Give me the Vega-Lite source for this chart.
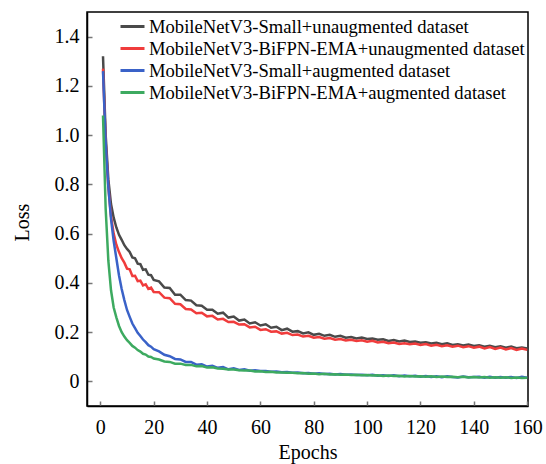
{
  "$schema": "https://vega.github.io/schema/vega-lite/v6.json",
  "width": 441,
  "height": 394,
  "autosize": "none",
  "padding": {"left": 87, "top": 12, "right": 18, "bottom": 58},
  "background": "white",
  "config": {
    "font": "Liberation Serif",
    "view": {"stroke": "black", "strokeWidth": 1.5},
    "axis": {
      "grid": false,
      "domainColor": "black",
      "domainWidth": 1.5,
      "tickColor": "#777777",
      "tickWidth": 1.5,
      "tickSize": -5,
      "labelFontSize": 20,
      "labelColor": "black",
      "labelFont": "Liberation Serif",
      "titleFont": "Liberation Serif",
      "titleFontSize": 20,
      "titleFontWeight": "normal",
      "titleColor": "black"
    }
  },
  "data": {
    "values": [
      {"e": 1, "a": 1.32, "b": 1.27, "c": 1.26, "d": 1.08},
      {"e": 2, "a": 1.0, "b": 0.97, "c": 0.97, "d": 0.7},
      {"e": 3, "a": 0.82, "b": 0.79, "c": 0.79, "d": 0.49},
      {"e": 4, "a": 0.72, "b": 0.67, "c": 0.66, "d": 0.37},
      {"e": 5, "a": 0.665, "b": 0.6, "c": 0.57, "d": 0.3},
      {"e": 6, "a": 0.625, "b": 0.555, "c": 0.5, "d": 0.26},
      {"e": 7, "a": 0.595, "b": 0.525, "c": 0.43, "d": 0.225},
      {"e": 8, "a": 0.575, "b": 0.5, "c": 0.375, "d": 0.2},
      {"e": 9, "a": 0.553, "b": 0.482, "c": 0.33, "d": 0.182},
      {"e": 10, "a": 0.538, "b": 0.458, "c": 0.29, "d": 0.167},
      {"e": 11, "a": 0.526, "b": 0.455, "c": 0.262, "d": 0.156},
      {"e": 12, "a": 0.503, "b": 0.428, "c": 0.235, "d": 0.144},
      {"e": 13, "a": 0.5, "b": 0.429, "c": 0.216, "d": 0.137},
      {"e": 14, "a": 0.478, "b": 0.407, "c": 0.197, "d": 0.127},
      {"e": 15, "a": 0.476, "b": 0.409, "c": 0.184, "d": 0.121},
      {"e": 16, "a": 0.453, "b": 0.39, "c": 0.17, "d": 0.112},
      {"e": 17, "a": 0.455, "b": 0.394, "c": 0.159, "d": 0.109},
      {"e": 18, "a": 0.433, "b": 0.376, "c": 0.147, "d": 0.101},
      {"e": 19, "a": 0.431, "b": 0.381, "c": 0.141, "d": 0.099},
      {"e": 20, "a": 0.412, "b": 0.363, "c": 0.131, "d": 0.093},
      {"e": 22, "a": 0.406, "b": 0.362, "c": 0.122, "d": 0.089},
      {"e": 24, "a": 0.381, "b": 0.34, "c": 0.108, "d": 0.081},
      {"e": 26, "a": 0.379, "b": 0.338, "c": 0.102, "d": 0.079},
      {"e": 28, "a": 0.352, "b": 0.315, "c": 0.091, "d": 0.072},
      {"e": 30, "a": 0.352, "b": 0.313, "c": 0.089, "d": 0.072},
      {"e": 32, "a": 0.33, "b": 0.294, "c": 0.079, "d": 0.067},
      {"e": 34, "a": 0.328, "b": 0.292, "c": 0.079, "d": 0.067},
      {"e": 36, "a": 0.309, "b": 0.277, "c": 0.068, "d": 0.061},
      {"e": 38, "a": 0.307, "b": 0.279, "c": 0.069, "d": 0.062},
      {"e": 40, "a": 0.291, "b": 0.264, "c": 0.06, "d": 0.056},
      {"e": 42, "a": 0.291, "b": 0.266, "c": 0.063, "d": 0.057},
      {"e": 44, "a": 0.275, "b": 0.251, "c": 0.055, "d": 0.052},
      {"e": 46, "a": 0.279, "b": 0.254, "c": 0.058, "d": 0.051},
      {"e": 48, "a": 0.259, "b": 0.241, "c": 0.049, "d": 0.048},
      {"e": 50, "a": 0.263, "b": 0.242, "c": 0.053, "d": 0.048},
      {"e": 52, "a": 0.247, "b": 0.231, "c": 0.046, "d": 0.045},
      {"e": 54, "a": 0.251, "b": 0.232, "c": 0.049, "d": 0.044},
      {"e": 56, "a": 0.235, "b": 0.219, "c": 0.043, "d": 0.044},
      {"e": 58, "a": 0.24, "b": 0.222, "c": 0.045, "d": 0.04},
      {"e": 60, "a": 0.227, "b": 0.209, "c": 0.042, "d": 0.041},
      {"e": 62, "a": 0.232, "b": 0.212, "c": 0.042, "d": 0.038},
      {"e": 64, "a": 0.218, "b": 0.202, "c": 0.039, "d": 0.039},
      {"e": 66, "a": 0.222, "b": 0.203, "c": 0.04, "d": 0.036},
      {"e": 68, "a": 0.208, "b": 0.194, "c": 0.037, "d": 0.036},
      {"e": 70, "a": 0.214, "b": 0.197, "c": 0.038, "d": 0.035},
      {"e": 72, "a": 0.202, "b": 0.188, "c": 0.035, "d": 0.035},
      {"e": 74, "a": 0.204, "b": 0.19, "c": 0.036, "d": 0.033},
      {"e": 76, "a": 0.195, "b": 0.182, "c": 0.033, "d": 0.034},
      {"e": 78, "a": 0.199, "b": 0.185, "c": 0.034, "d": 0.031},
      {"e": 80, "a": 0.189, "b": 0.177, "c": 0.031, "d": 0.032},
      {"e": 82, "a": 0.193, "b": 0.18, "c": 0.033, "d": 0.029},
      {"e": 84, "a": 0.185, "b": 0.173, "c": 0.03, "d": 0.031},
      {"e": 86, "a": 0.189, "b": 0.176, "c": 0.031, "d": 0.028},
      {"e": 88, "a": 0.181, "b": 0.169, "c": 0.028, "d": 0.029},
      {"e": 90, "a": 0.185, "b": 0.172, "c": 0.03, "d": 0.027},
      {"e": 92, "a": 0.177, "b": 0.166, "c": 0.027, "d": 0.028},
      {"e": 94, "a": 0.18, "b": 0.169, "c": 0.028, "d": 0.026},
      {"e": 96, "a": 0.174, "b": 0.164, "c": 0.026, "d": 0.027},
      {"e": 98, "a": 0.178, "b": 0.167, "c": 0.027, "d": 0.025},
      {"e": 100, "a": 0.172, "b": 0.161, "c": 0.025, "d": 0.026},
      {"e": 102, "a": 0.174, "b": 0.165, "c": 0.027, "d": 0.024},
      {"e": 104, "a": 0.169, "b": 0.158, "c": 0.023, "d": 0.025},
      {"e": 106, "a": 0.171, "b": 0.161, "c": 0.025, "d": 0.022},
      {"e": 108, "a": 0.164, "b": 0.155, "c": 0.022, "d": 0.024},
      {"e": 110, "a": 0.168, "b": 0.158, "c": 0.025, "d": 0.022},
      {"e": 112, "a": 0.162, "b": 0.152, "c": 0.021, "d": 0.023},
      {"e": 114, "a": 0.166, "b": 0.155, "c": 0.024, "d": 0.02},
      {"e": 116, "a": 0.16, "b": 0.151, "c": 0.021, "d": 0.022},
      {"e": 118, "a": 0.162, "b": 0.154, "c": 0.023, "d": 0.02},
      {"e": 120, "a": 0.157, "b": 0.148, "c": 0.019, "d": 0.021},
      {"e": 122, "a": 0.159, "b": 0.152, "c": 0.022, "d": 0.019},
      {"e": 124, "a": 0.154, "b": 0.145, "c": 0.018, "d": 0.021},
      {"e": 126, "a": 0.157, "b": 0.149, "c": 0.021, "d": 0.018},
      {"e": 128, "a": 0.151, "b": 0.143, "c": 0.017, "d": 0.02},
      {"e": 130, "a": 0.155, "b": 0.147, "c": 0.021, "d": 0.018},
      {"e": 132, "a": 0.148, "b": 0.141, "c": 0.018, "d": 0.019},
      {"e": 134, "a": 0.151, "b": 0.145, "c": 0.016, "d": 0.017},
      {"e": 136, "a": 0.146, "b": 0.139, "c": 0.02, "d": 0.019},
      {"e": 138, "a": 0.15, "b": 0.143, "c": 0.017, "d": 0.016},
      {"e": 140, "a": 0.144, "b": 0.137, "c": 0.018, "d": 0.018},
      {"e": 142, "a": 0.147, "b": 0.141, "c": 0.019, "d": 0.016},
      {"e": 144, "a": 0.141, "b": 0.134, "c": 0.015, "d": 0.018},
      {"e": 146, "a": 0.145, "b": 0.139, "c": 0.019, "d": 0.015},
      {"e": 148, "a": 0.139, "b": 0.132, "c": 0.015, "d": 0.017},
      {"e": 150, "a": 0.143, "b": 0.137, "c": 0.018, "d": 0.015},
      {"e": 152, "a": 0.137, "b": 0.13, "c": 0.015, "d": 0.017},
      {"e": 154, "a": 0.141, "b": 0.135, "c": 0.018, "d": 0.014},
      {"e": 156, "a": 0.135, "b": 0.128, "c": 0.014, "d": 0.016},
      {"e": 158, "a": 0.138, "b": 0.133, "c": 0.019, "d": 0.014},
      {"e": 160, "a": 0.134, "b": 0.128, "c": 0.015, "d": 0.015}
    ]
  },
  "transform": [{"fold": ["a", "b", "c", "d"], "as": ["s", "v"]}],
  "mark": {"type": "line", "strokeWidth": 2.5},
  "encoding": {
    "x": {
      "field": "e",
      "type": "quantitative",
      "scale": {"domain": [-5, 160.3], "nice": false, "zero": false},
      "axis": {
        "title": "Epochs",
        "values": [0, 20, 40, 60, 80, 100, 120, 140, 160],
        "labelFlush": false,
        "labelPadding": 16,
        "titleBaseline": "alphabetic",
        "titleY": 52
      }
    },
    "y": {
      "field": "v",
      "type": "quantitative",
      "scale": {"domain": [-0.1, 1.5], "nice": false, "zero": false},
      "axis": {
        "title": "Loss",
        "values": [0, 0.2, 0.4, 0.6, 0.8, 1.0, 1.2, 1.4],
        "labelExpr": "datum.value == 0 ? '0' : format(datum.value, '.1f')",
        "labelPadding": 13,
        "titleX": -65,
        "titleY": 210,
        "titleBaseline": "middle",
        "titleAngle": -90
      }
    },
    "color": {
      "field": "s",
      "type": "nominal",
      "scale": {
        "domain": ["a", "b", "c", "d"],
        "range": ["#4a4a4a", "#f03c3c", "#3a62c8", "#3daa60"]
      },
      "legend": {
        "title": null,
        "orient": "none",
        "legendX": 34,
        "legendY": 3,
        "symbolType": "M-1.2,0H1.2",
        "symbolSize": 400,
        "symbolStrokeWidth": 3,
        "labelFontSize": 18.6,
        "labelFont": "Liberation Serif",
        "labelColor": "black",
        "labelOffset": 5,
        "rowPadding": -4,
        "labelLimit": 500,
        "labelExpr": "{'a': 'MobileNetV3-Small+unaugmented dataset', 'b': 'MobileNetV3-BiFPN-EMA+unaugmented dataset', 'c': 'MobileNetV3-Small+augmented dataset', 'd': 'MobileNetV3-BiFPN-EMA+augmented dataset'}[datum.label]"
      }
    }
  }
}
